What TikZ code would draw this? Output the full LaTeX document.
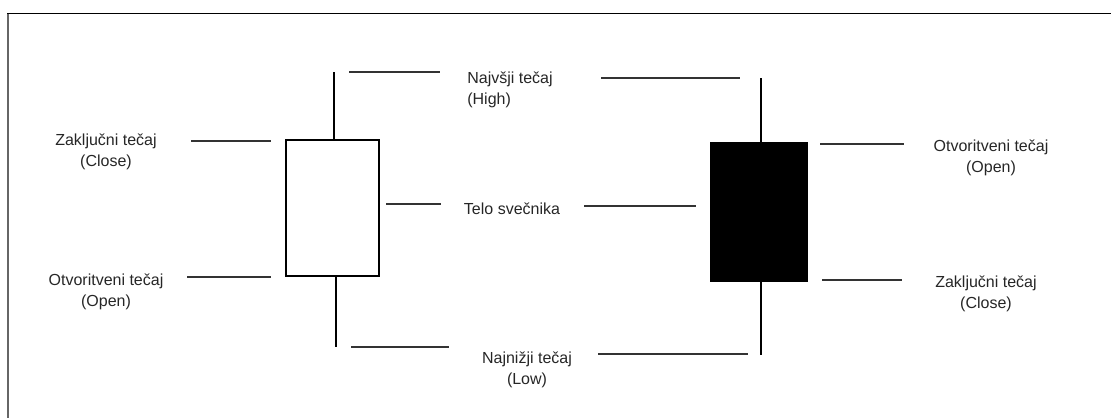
\documentclass[tikz,border=0pt]{standalone}
\usepackage{fontspec}
\setmainfont{Liberation Sans}
\begin{document}
\begin{tikzpicture}[x=1pt,y=-1pt,
  lbl/.style={font=\fontsize{16}{20.5}\selectfont, align=center, inner sep=0pt, text=black!85},
  leader/.style={draw=black!80, line width=1.1pt},
  wick/.style={draw=black, line width=1.6pt},
  bodyw/.style={draw=black, line width=2.2pt, fill=white, rectangle, inner sep=0pt},
  bodyb/.style={draw=black, line width=1pt, fill=black, rectangle, inner sep=0pt}]
\useasboundingbox (0,0) rectangle (1111,418);
% frame
\draw[line width=1.8pt] (7,13.5) -- (1111,13.5);
\draw[line width=1.2pt, black!60] (8,13.5) -- (8,418);
% left (white) candle
\node[bodyw, minimum width=93pt, minimum height=136pt] (lbody) at (332.5,208) {};
\coordinate (lhi) at (334,72);
\coordinate (llo) at (336,347);
\draw[wick] (lhi) -- (lhi |- lbody.north);
\draw[wick] (llo |- lbody.south) -- (llo);
% right (black) candle
\node[bodyb, minimum width=97pt, minimum height=139pt] (rbody) at (758.5,211.5) {};
\coordinate (rhi) at (761,78);
\coordinate (rlo) at (761,355);
\draw[wick] (rhi) -- (rhi |- rbody.north);
\draw[wick] (rlo |- rbody.south) -- (rlo);
% labels left
\node[lbl] (lclose) at (106,152) {Zaključni tečaj\\(Close)};
\node[lbl] (lopen) at (106,292) {Otvoritveni tečaj\\(Open)};
% labels center
\node[lbl, align=left] (high) at (510,90) {Najvšji tečaj\\(High)};
\node[lbl] (body) at (512,209) {Telo svečnika};
\node[lbl] (low) at (527,370) {Najnižji tečaj\\(Low)};
% labels right
\node[lbl] (ropen) at (991,158) {Otvoritveni tečaj\\(Open)};
\node[lbl] (rclose) at (986,294) {Zaključni tečaj\\(Close)};
% leader lines
\draw[leader] (191,141) -- (271,141);
\draw[leader] (187,277) -- (271,277);
\draw[leader] (349,72) -- (440,72);
\draw[leader] (601,78) -- (740,78);
\draw[leader] (386,204) -- (441,204);
\draw[leader] (584,206) -- (696,206);
\draw[leader] (351,347) -- (449,347);
\draw[leader] (598,354) -- (748,354);
\draw[leader] (820,144) -- (904,144);
\draw[leader] (822,280) -- (902,280);
\end{tikzpicture}
\end{document}
